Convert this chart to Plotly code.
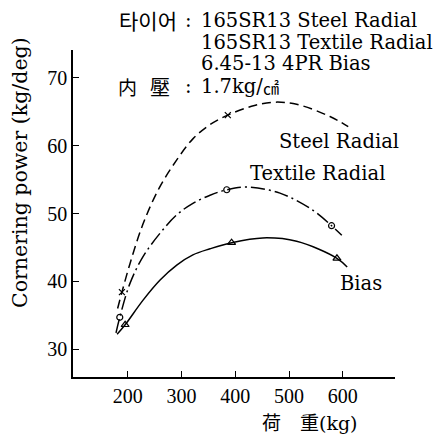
import plotly.graph_objects as go

# ---- data ----
steel_x = [181, 189, 204, 228, 258, 291, 321, 353, 386, 430, 470, 514, 576, 610]
steel_y = [36.0, 38.4, 42.6, 48.4, 53.7, 57.9, 61.0, 63.1, 64.5, 65.8, 66.4, 66.1, 64.3, 62.8]
steel_mx = [189, 386]
steel_my = [38.4, 64.5]

textile_x = [178, 185, 204, 228, 260, 291, 321, 353, 384, 421, 483, 544, 579, 598]
textile_y = [32.4, 34.7, 39.7, 43.6, 47.1, 49.8, 51.5, 52.7, 53.5, 53.9, 53.0, 50.5, 48.2, 46.8]
textile_mx = [185, 384, 579]
textile_my = [34.7, 53.5, 48.2]

bias_x = [180, 195, 228, 260, 291, 321, 353, 393, 451, 514, 589, 608]
bias_y = [32.2, 33.6, 37.2, 40.2, 42.4, 43.9, 44.8, 45.7, 46.4, 45.9, 43.4, 42.1]
bias_mx = [195, 393, 589]
bias_my = [33.6, 45.7, 43.4]

x_ticks = [200, 300, 400, 500, 600]
y_ticks = [30, 40, 50, 60, 70]

SERIF = "DejaVu Serif, Noto Sans CJK KR, serif"
CJK = "Noto Sans CJK KR, Noto Sans CJK SC, sans-serif"
TICKF = "Liberation Serif, serif"

fig = go.Figure()
lw = 1.5
fig.add_trace(go.Scatter(x=steel_x, y=steel_y, mode="lines",
                         line=dict(color="black", width=lw, dash="9px,5px", shape="spline", smoothing=1.0),
                         showlegend=False))
fig.add_trace(go.Scatter(x=steel_mx, y=steel_my, mode="markers",
                         marker=dict(symbol="x-thin", size=6, line=dict(color="black", width=1.2)),
                         showlegend=False))
fig.add_trace(go.Scatter(x=textile_x, y=textile_y, mode="lines",
                         line=dict(color="black", width=lw, dash="14px,4px,2px,4px", shape="spline", smoothing=1.0),
                         showlegend=False))
fig.add_trace(go.Scatter(x=textile_mx, y=textile_my, mode="markers",
                         marker=dict(symbol="circle-open", size=6, color="black", line=dict(width=1.2)),
                         showlegend=False))
fig.add_trace(go.Scatter(x=bias_x, y=bias_y, mode="lines",
                         line=dict(color="black", width=lw, shape="spline", smoothing=1.0),
                         showlegend=False))
fig.add_trace(go.Scatter(x=bias_mx, y=bias_my, mode="markers",
                         marker=dict(symbol="triangle-up-open", size=7, color="black", line=dict(width=1.2)),
                         showlegend=False))

L, R, T, B = 73, 395, 50, 377
W, H = R - L, B - T


def px(x):
    return (x - L) / W


def py(y):
    return (B - y) / H


ann = []


def add(text, x, y, xanchor="left", size=19.5, family=SERIF, angle=0):
    ann.append(dict(text=text, x=px(x), y=py(y), xref="paper", yref="paper",
                    xanchor=xanchor, yanchor="middle", showarrow=False,
                    textangle=angle, font=dict(family=family, size=size, color="black")))


add("타이어", 117, 20, size=21, family=CJK)
add(":", 188, 20, xanchor="center")
add("165SR13 Steel Radial", 199, 20)
add("165SR13 Textile Radial", 199, 42)
add("6.45-13 4PR Bias", 199, 63)
add("内", 116, 86, size=19, family=CJK)
add("壓", 148, 86, size=20, family=CJK)
add(":", 188, 86, xanchor="center")
add("1.7kg/", 199, 86)
add("㎠", 261, 87, size=16, family=CJK)
add("Steel Radial", 277, 141)
add("Textile Radial", 248, 173)
add("Bias", 338, 283)
add("Cornering power (kg/deg)", 20, 173, xanchor="center", size=20.5, angle=-90)
add("荷　重(kg)", 310, 423, xanchor="center", size=19)

fig.update_layout(
    width=434, height=436,
    margin=dict(l=L, r=434 - R, t=T, b=436 - B),
    paper_bgcolor="white", plot_bgcolor="white",
    annotations=ann,
    xaxis=dict(range=[98, 697], tickvals=x_ticks, ticks="inside", ticklen=6,
               tickcolor="black", showline=True, linecolor="black", linewidth=1.5,
               showgrid=False, zeroline=False,
               tickfont=dict(family=TICKF, size=20, color="black")),
    yaxis=dict(range=[25.9, 74.1], tickvals=y_ticks, ticks="inside", ticklen=6,
               tickcolor="black", showline=True, linecolor="black", linewidth=1.5,
               showgrid=False, zeroline=False, ticklabelstandoff=0,
               tickfont=dict(family=TICKF, size=20, color="black")),
)

fig.write_html("out.html")
